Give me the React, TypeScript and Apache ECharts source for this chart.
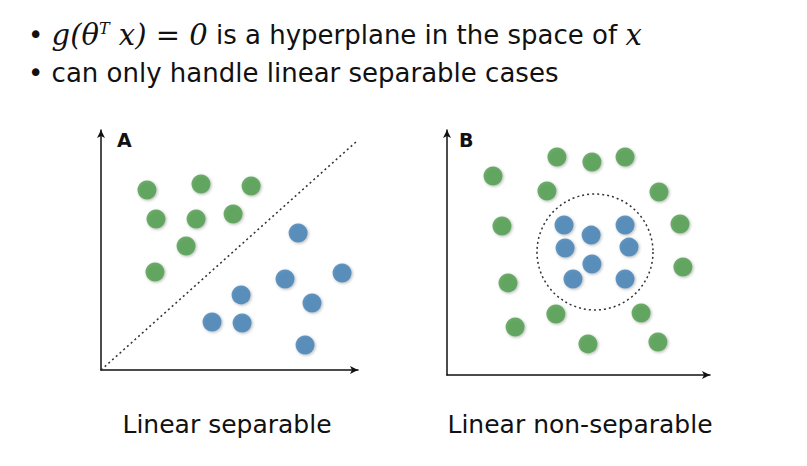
import React, { useEffect, useRef } from "react";
import * as echarts from "echarts";

// panel A (linear separable)
const greenA = [[1.79, 7.5], [3.89, 7.75], [5.84, 7.67], [2.14, 6.29], [3.7, 6.29], [5.14, 6.5], [3.31, 5.17], [2.1, 4.08]];
const blueA = [[7.67, 5.71], [7.16, 3.79], [9.38, 4.04], [5.45, 3.13], [8.21, 2.79], [4.32, 2.0], [5.49, 1.96], [7.94, 1.04]];
const boundaryA = [[0, 0], [9.92, 9.5]];

// panel B (linear non-separable)
const greenB = [[1.75, 8.12], [4.18, 8.9], [5.51, 8.69], [6.77, 8.9], [3.8, 7.51], [8.06, 7.47], [2.09, 6.08], [8.86, 6.16], [8.97, 4.41], [2.32, 3.76], [4.14, 2.49], [7.38, 2.53], [2.59, 1.96], [5.36, 1.27], [8.02, 1.35]];
const blueB = [[4.45, 6.12], [6.77, 6.12], [5.48, 5.71], [4.49, 5.18], [6.92, 5.22], [5.51, 4.53], [4.79, 3.92], [6.77, 3.92]];

const titles = ["Linear separable", "Linear non-separable"];

const GREEN = "#4b9a47";
const BLUE = "#3f7db3";

const App = () => {
  const chartRef = useRef<HTMLDivElement>(null);

  useEffect(() => {
    if (!chartRef.current) return;
    document.body.style.margin = "0";
    const chart = echarts.init(chartRef.current, null, { renderer: "svg" });

    const axisCommon = {
      type: "value" as const,
      min: 0,
      max: 10,
      axisLine: { show: true, symbol: ["none", "arrow"], symbolSize: [6, 8], lineStyle: { color: "#111", width: 1.5 } },
      axisTick: { show: false },
      axisLabel: { show: false },
      splitLine: { show: false },
    };

    const dot = (color: string, data: number[][], idx: number) => ({
      type: "scatter" as const,
      xAxisIndex: idx,
      yAxisIndex: idx,
      data,
      symbolSize: 19,
      itemStyle: { color, shadowColor: "rgba(0,0,0,0.35)", shadowBlur: 3, shadowOffsetX: 1, shadowOffsetY: 1 },
    });

    const mathFont = "'DejaVu Serif', 'Liberation Serif', serif";
    const sans = "'DejaVu Sans', sans-serif";

    const option: echarts.EChartsOption = {
      animation: false,
      backgroundColor: "#fff",
      grid: [
        { left: 101, top: 130, width: 257, height: 240 },
        { left: 447, top: 130, width: 263, height: 245 },
      ],
      xAxis: [{ ...axisCommon, gridIndex: 0 }, { ...axisCommon, gridIndex: 1 }],
      yAxis: [{ ...axisCommon, gridIndex: 0 }, { ...axisCommon, gridIndex: 1 }],
      series: [
        {
          type: "line",
          xAxisIndex: 0,
          yAxisIndex: 0,
          data: boundaryA,
          symbol: "none",
          lineStyle: { color: "#333", width: 1.5, type: [2, 3] },
        },
        dot(GREEN, greenA, 0),
        dot(BLUE, blueA, 0),
        dot(GREEN, greenB, 1),
        dot(BLUE, blueB, 1),
      ],
      graphic: [
        {
          type: "circle",
          shape: { cx: 595, cy: 252, r: 58 },
          style: { fill: "none", stroke: "#333", lineWidth: 1.5, lineDash: [2, 3] },
          z: 1,
        },
        {
          type: "text",
          left: 28,
          top: 20,
          style: {
            text: "• {m|g(θ}{s|T}{m| x) = 0}{t| is a hyperplane in the space of }{m|x}",
            fontSize: 26,
            fontFamily: sans,
            fill: "#111",
            rich: {
              m: { fontFamily: mathFont, fontStyle: "italic", fontSize: 29, fill: "#111" },
              s: { fontFamily: mathFont, fontStyle: "italic", fontSize: 16, fill: "#111", verticalAlign: "top", padding: [0, 0, 12, 0] },
              t: { fontFamily: sans, fontSize: 26, fill: "#111" },
            },
          },
        },
        {
          type: "text",
          left: 28,
          top: 60,
          style: { text: "• can only handle linear separable cases", fontSize: 26, fontFamily: sans, fill: "#111" },
        },
        { type: "text", left: 117, top: 130, style: { text: "A", fontSize: 19, fontWeight: "bold", fontFamily: sans, fill: "#111" } },
        { type: "text", left: 459, top: 130, style: { text: "B", fontSize: 19, fontWeight: "bold", fontFamily: sans, fill: "#111" } },
        { type: "text", x: 227, y: 424, style: { text: titles[0], fontSize: 25, fontFamily: sans, fill: "#111", align: "center", verticalAlign: "middle" } },
        { type: "text", x: 580, y: 424, style: { text: titles[1], fontSize: 25, fontFamily: sans, fill: "#111", align: "center", verticalAlign: "middle" } },
      ],
    };

    chart.setOption(option);
    return () => chart.dispose();
  }, []);

  return <div ref={chartRef} style={{ width: "807px", height: "466px" }} />;
};

export default App;
